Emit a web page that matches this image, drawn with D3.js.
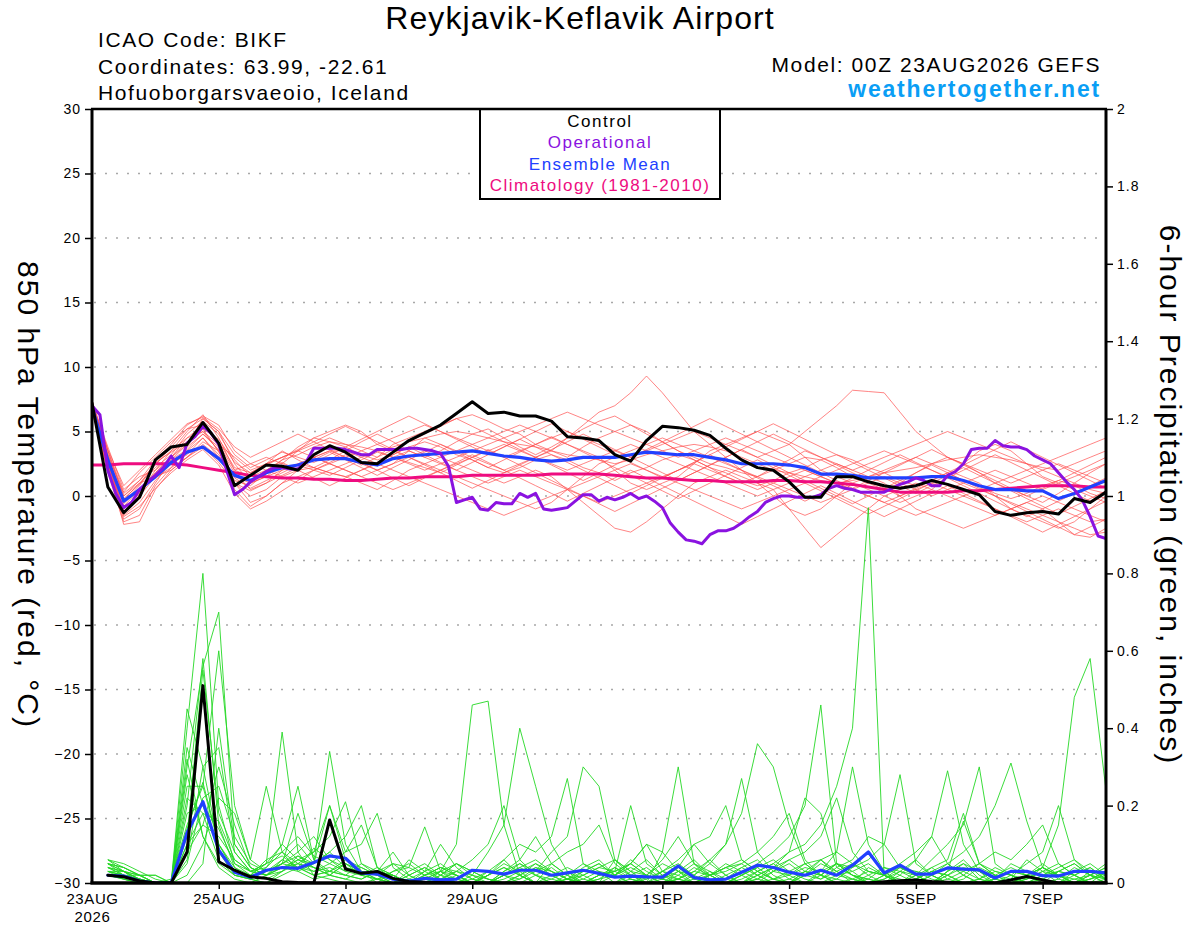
<!DOCTYPE html>
<html>
<head>
<meta charset="utf-8">
<title>Reykjavik-Keflavik Airport GEFS</title>
<script src="https://cdn.jsdelivr.net/npm/d3@7"></script>
<style>
body {margin:0;background:#fff;}
svg {display:block;font-family:"Liberation Sans",Arial,Helvetica,sans-serif;}
.grid line {stroke:#a8a8a8;stroke-width:1.3;stroke-dasharray:2,9;}
.member {fill:none;}
.thick {fill:none;stroke-linejoin:round;stroke-linecap:round;}
</style>
</head>
<body>
<svg id="chart" width="1200" height="927"></svg>
<script>
// 6-hourly steps from 00Z 23AUG2026, hour 0 .. 384
var stepHours = 6;
var dateTicks = [0, 48, 96, 144, 216, 264, 312, 360];
var dateLabels = ["23AUG", "25AUG", "27AUG", "29AUG", "1SEP", "3SEP", "5SEP", "7SEP"];
var tempTicks = [-30,-25,-20,-15,-10,-5,0,5,10,15,20,25,30];
var precipTicks = [0,0.2,0.4,0.6,0.8,1,1.2,1.4,1.6,1.8,2];

// 850 hPa temperature (C), 6-hourly, hour 0..384
var controlTemp = [7.2,0.7,-1.3,-0.1,2.8,3.8,4.0,5.7,4.1,0.8,1.6,2.4,2.3,2.0,3.2,3.9,3.4,2.6,2.5,3.4,4.3,4.9,5.5,6.4,7.3,6.4,6.5,6.2,6.2,5.8,4.6,4.5,4.3,3.2,2.7,4.3,5.4,5.3,5.1,4.7,3.7,2.8,2.2,2.0,1.1,-0.1,-0.1,1.5,1.5,1.1,0.8,0.6,0.8,1.2,0.9,0.5,0.1,-1.2,-1.5,-1.3,-1.2,-1.4,-0.2,-0.5,0.3];
var meanTemp = [6.9,2.8,-0.4,0.5,1.5,2.6,3.4,3.8,2.9,1.6,1.2,1.8,2.2,2.4,2.8,2.9,2.9,2.6,2.4,2.9,3.1,3.2,3.3,3.4,3.5,3.3,3.1,3.0,2.8,2.7,2.8,3.0,3.0,3.0,3.2,3.4,3.3,3.2,3.2,3.0,2.8,2.5,2.5,2.5,2.4,2.2,1.7,1.7,1.6,1.4,1.4,1.4,1.4,1.5,1.5,1.2,0.8,0.5,0.5,0.4,0.4,-0.2,0.2,0.7,1.2];
var climTemp = [2.4,2.4,2.5,2.5,2.5,2.5,2.4,2.2,2.0,1.8,1.6,1.5,1.4,1.4,1.3,1.3,1.2,1.2,1.3,1.4,1.4,1.5,1.5,1.5,1.6,1.6,1.6,1.6,1.6,1.7,1.7,1.7,1.7,1.6,1.5,1.4,1.4,1.3,1.2,1.2,1.1,1.1,1.1,1.2,1.2,1.1,1.1,1.0,0.9,0.7,0.5,0.3,0.3,0.3,0.3,0.4,0.4,0.5,0.6,0.7,0.8,0.8,0.8,0.7,0.7];
// operational run is 3-hourly, hour 0..384
var operTemp = [7.0,6.3,2.0,0.2,-0.9,-0.5,0.5,1.1,1.6,2.2,
  3.1,2.2,4.1,4.6,5.4,4.9,4.0,2.0,0.1,0.5,
  1.1,1.5,1.9,2.2,2.2,2.1,2.1,2.6,3.7,3.7,
  3.7,3.7,3.6,3.4,3.2,3.2,3.6,3.6,3.6,3.6,
  3.7,3.7,3.6,3.5,3.3,2.3,-0.5,-0.3,-0.1,-1.0,
  -1.1,-0.5,-0.6,-0.6,0.2,-0.1,0.2,-1.0,-1.1,-1.0,
  -0.9,-0.4,0.1,0.1,-0.4,-0.1,-0.3,-0.1,0.2,-0.2,
  0.0,-0.4,-0.9,-2.1,-2.8,-3.4,-3.5,-3.7,-3.0,-2.7,
  -2.7,-2.5,-2.1,-1.6,-1.2,-0.5,-0.2,0.0,0.0,-0.1,
  -0.1,-0.1,0.1,0.6,0.8,0.6,0.5,0.3,0.3,0.3,
  0.3,0.6,0.9,1.1,1.4,1.2,0.8,0.8,1.6,1.9,
  2.5,3.6,3.7,3.7,4.3,3.9,3.8,3.8,3.6,3.1,
  2.8,2.5,1.8,1.1,0.5,-0.3,-1.6,-3.1,-3.3];

var tempMembers = [
  [7.0,2.5,-1.0,0.2,2.0,3.5,4.5,5.5,4.0,2.0,1.5,2.5,3.0,3.5,4.0,4.5,4.0,3.5,3.0,4.0,4.5,5.0,5.5,6.0,6.3,5.8,5.2,4.8,4.0,3.5,3.0,3.8,4.5,5.0,5.5,5.0,4.2,3.5,3.0,2.5,2.2,1.8,1.5,2.0,2.5,3.0,2.8,2.2,1.5,1.0,0.5,1.0,1.8,2.5,3.0,2.5,1.8,1.0,0.5,0.0,-0.5,0.2,1.0,1.8,2.5],
  [7.2,3.5,0.0,1.0,1.5,2.0,3.0,4.2,3.5,1.0,0.0,0.5,1.5,2.0,2.2,1.8,1.5,1.0,0.5,1.2,2.0,2.5,2.0,1.5,1.0,0.5,0.0,-0.5,-1.0,-0.5,0.5,1.5,2.5,3.0,3.5,4.0,4.5,4.0,3.5,3.0,2.5,2.0,1.0,0.0,-1.0,-1.5,-1.0,0.0,1.0,1.5,2.0,2.5,3.0,2.5,2.0,1.5,1.0,0.0,-1.0,-1.5,-2.0,-2.5,-2.0,-1.0,0.0],
  [6.8,2.0,-1.8,-1.0,1.0,2.8,4.0,6.0,5.0,2.5,1.0,1.5,2.5,3.5,4.5,5.0,5.5,5.0,4.0,3.5,3.0,2.5,3.0,3.5,4.0,4.5,5.0,5.5,5.0,4.5,4.0,3.5,3.0,2.0,1.0,0.5,1.0,1.5,2.5,3.5,4.0,4.5,5.0,4.5,4.0,3.0,2.0,1.5,1.0,0.5,0.0,-0.5,0.0,0.5,1.5,2.5,3.5,4.0,3.5,2.5,1.5,1.0,0.5,0.0,-0.5],
  [7.1,3.0,-0.5,0.8,2.5,3.5,5.0,6.3,4.5,2.0,2.5,3.0,2.5,2.0,3.0,3.5,3.0,2.5,2.0,2.5,3.5,4.5,4.0,3.5,3.0,2.5,2.0,2.5,3.0,3.5,4.5,5.5,6.5,7.0,8.0,9.3,8.0,6.5,5.0,4.0,3.0,2.0,1.5,1.0,0.5,0.0,-0.5,0.0,0.5,1.0,1.5,1.0,0.5,0.0,0.5,1.0,1.5,2.0,1.5,1.0,0.5,1.0,1.5,2.0,2.5],
  [6.9,2.2,-2.2,-2.0,0.5,2.0,3.0,4.0,3.0,1.0,-0.5,0.0,1.0,1.5,2.0,2.5,2.0,1.5,2.0,2.5,3.0,3.5,3.0,2.5,2.0,1.5,1.0,1.5,2.0,1.5,0.5,-0.5,-1.5,-2.5,-2.8,-2.0,-1.0,0.0,1.0,1.5,2.0,1.5,1.0,0.5,-1.0,-2.5,-4.0,-3.0,-2.0,-1.0,0.0,0.5,1.0,0.5,0.0,-0.5,-1.0,-1.5,-1.0,-0.5,-1.0,-2.0,-3.0,-3.2,-2.5],
  [7.3,3.8,0.5,1.5,2.0,3.0,4.5,5.0,4.0,3.0,2.0,2.5,3.0,3.5,3.0,2.5,3.0,3.5,4.0,4.5,5.0,5.5,5.0,4.5,4.0,3.5,3.0,3.5,4.0,4.5,5.0,4.5,4.0,3.5,3.0,3.5,4.0,4.5,5.0,4.5,4.0,3.5,3.0,3.5,4.0,5.0,6.0,7.0,8.2,8.1,8.0,6.5,5.0,4.0,3.0,2.5,2.0,1.5,1.0,1.5,2.0,2.5,2.0,1.5,1.0],
  [6.7,2.8,-1.2,0.0,1.5,2.5,3.5,4.5,3.0,1.5,1.0,1.5,2.0,2.5,3.0,2.5,2.0,1.5,1.0,0.5,1.0,1.5,2.0,2.5,3.0,3.5,4.0,3.5,3.0,2.5,2.0,2.5,3.0,3.5,4.0,3.5,3.0,2.5,2.0,1.5,1.0,0.5,0.0,0.5,1.0,1.5,2.0,2.5,2.0,1.5,1.0,0.0,-1.0,-1.5,-2.0,-2.5,-2.0,-1.5,-1.0,-0.5,0.0,-0.5,-1.0,-1.5,-2.0],
  [7.0,3.2,0.2,1.2,2.8,4.0,5.5,6.2,5.5,3.5,2.5,2.0,1.5,1.0,1.5,2.0,2.5,3.0,3.5,3.0,2.5,2.0,2.5,3.0,3.5,4.0,4.5,5.0,5.5,6.0,6.5,6.0,5.5,5.0,4.5,4.0,3.5,3.0,3.5,4.0,4.5,4.0,3.5,3.0,2.5,2.0,1.5,2.0,2.5,3.0,3.5,3.0,2.5,2.0,1.5,1.0,0.5,1.0,1.5,2.0,2.5,3.0,3.5,4.0,4.5],
  [6.9,2.5,-0.8,0.5,1.8,3.0,4.2,5.0,3.5,0.5,-0.8,0.0,1.0,2.0,3.0,3.5,3.5,3.0,2.5,3.0,3.5,3.0,2.5,2.0,1.5,1.0,1.5,2.0,1.5,1.0,0.5,0.0,-0.5,0.0,0.5,1.0,1.5,2.0,2.5,2.0,1.5,1.0,0.5,1.0,1.5,2.0,1.5,1.0,0.5,0.0,-0.5,-1.0,-1.5,-1.0,-0.5,0.0,0.5,0.0,-0.5,-1.0,-1.5,-2.0,-2.5,-3.0,-2.8],
  [7.2,3.0,-0.3,1.0,2.2,3.2,4.8,5.8,4.8,2.8,1.5,2.0,2.8,3.2,3.8,4.2,4.0,3.8,3.5,3.8,4.2,4.5,4.8,5.0,4.8,4.5,4.2,4.0,3.8,3.5,3.2,3.0,2.8,2.5,2.8,3.2,3.5,3.8,4.0,3.8,3.5,3.0,2.5,2.0,1.8,1.5,1.2,1.0,1.2,1.5,1.8,2.0,2.2,2.5,2.8,3.0,3.2,3.0,2.8,2.5,2.2,2.0,2.5,3.0,3.5],
  [6.6,1.8,-2.0,-1.5,0.8,2.2,3.8,4.8,3.8,1.8,0.5,1.0,2.0,2.5,2.2,1.8,1.5,2.0,2.5,2.0,1.5,1.0,0.5,0.0,-0.5,-1.0,-1.5,-1.0,-0.5,0.0,0.5,1.0,1.5,2.0,2.5,2.0,1.5,1.0,0.5,0.0,-0.5,-1.0,-0.5,0.0,0.5,1.0,1.5,1.0,0.5,0.0,-0.5,0.0,0.5,1.0,0.5,0.0,-0.5,-1.0,-1.5,-2.0,-1.5,-1.0,-1.5,-2.0,-1.8],
  [7.0,2.7,-1.5,-0.5,1.2,2.5,3.2,4.5,3.2,1.2,0.8,1.8,2.8,3.8,4.5,4.2,3.8,3.2,2.8,3.2,3.8,4.2,3.8,3.2,2.8,2.2,1.8,2.2,2.8,3.2,2.8,2.2,1.8,1.2,1.8,2.2,2.8,3.2,2.8,2.2,1.8,1.2,0.8,1.2,1.8,2.2,2.8,3.2,2.8,2.2,1.8,1.2,0.8,1.2,1.8,1.2,0.8,0.2,-0.2,0.2,0.8,1.2,0.8,0.2,-0.2],
  [7.4,3.5,0.3,1.8,3.0,4.2,5.2,5.5,4.2,2.2,1.8,2.5,3.5,2.8,2.2,2.8,3.5,4.2,4.8,4.2,3.5,3.0,3.5,4.2,4.8,5.2,4.5,3.8,3.2,3.8,4.5,5.2,5.8,6.2,5.5,4.8,4.2,3.5,2.8,2.2,1.5,1.0,1.5,2.2,2.8,3.5,3.0,2.5,2.0,2.5,3.0,3.5,4.0,4.5,5.0,4.5,4.0,3.5,3.0,2.5,2.0,1.5,1.0,0.5,0.2],
  [6.8,2.3,-1.0,0.3,1.6,2.8,3.6,4.8,3.6,1.4,0.6,1.2,1.8,2.4,2.0,1.6,2.2,2.8,3.4,3.0,2.6,2.2,1.8,2.4,3.0,3.6,3.0,2.4,1.8,1.2,0.6,0.0,-0.6,-1.2,-0.6,0.0,0.6,1.2,1.8,2.4,3.0,3.6,3.0,2.4,1.8,1.2,0.6,0.0,-0.6,0.0,0.6,1.2,1.8,2.4,1.8,1.2,0.6,0.0,-0.6,-1.2,-1.8,-2.4,-3.0,-2.4,-1.8],
  [7.1,3.3,0.0,1.2,2.4,3.8,5.2,6.0,5.0,3.2,2.2,2.8,3.4,3.0,2.6,3.2,3.8,4.4,5.0,5.6,6.2,5.6,5.0,4.4,3.8,3.2,3.8,4.4,5.0,5.6,5.0,4.4,3.8,3.2,2.6,2.0,1.4,2.0,2.6,3.2,3.8,4.4,5.0,5.6,5.0,4.4,3.8,3.2,2.6,2.0,1.4,0.8,0.2,0.8,1.4,2.0,2.6,3.2,2.6,2.0,1.4,0.8,0.2,-0.4,0.2],
  [6.9,2.6,-0.6,0.6,1.4,2.2,3.0,3.8,2.6,1.0,0.4,1.0,1.6,2.2,2.8,3.4,2.8,2.2,1.6,2.2,2.8,3.4,4.0,3.4,2.8,2.2,2.8,3.4,4.0,4.6,4.0,3.4,2.8,2.2,1.6,1.0,0.4,-0.2,0.4,1.0,1.6,2.2,2.8,2.2,1.6,1.0,0.4,-0.2,-0.8,-1.4,-0.8,-0.2,0.4,1.0,1.6,2.2,1.6,1.0,0.4,-0.2,-0.8,-1.4,-0.8,-0.2,0.4],
  [7.2,3.6,0.8,2.0,3.2,4.4,5.6,6.1,5.2,3.8,3.0,3.6,4.2,4.8,4.2,3.6,3.0,2.4,3.0,3.6,4.2,4.8,5.4,6.0,5.4,4.8,4.2,3.6,3.0,2.4,1.8,1.2,1.8,2.4,3.0,3.6,4.2,4.8,5.4,6.0,5.4,4.8,4.2,3.6,3.0,2.4,1.8,1.2,0.6,1.2,1.8,2.4,3.0,3.6,3.0,2.4,1.8,1.2,0.6,0.0,0.6,1.2,1.8,2.4,3.0],
  [6.7,2.0,-1.6,-0.8,0.6,1.8,2.8,3.6,2.4,0.2,-1.0,-0.4,0.4,1.2,2.0,2.6,3.2,2.6,2.0,1.4,0.8,1.4,2.0,2.6,3.2,2.6,2.0,1.4,0.8,0.2,-0.4,0.2,0.8,1.4,2.0,1.4,0.8,0.2,-0.4,-1.0,-1.6,-2.2,-1.6,-1.0,-0.4,0.2,0.8,0.2,-0.4,-1.0,-1.6,-1.0,-0.4,0.2,0.8,0.2,-0.4,-1.0,-1.6,-2.2,-2.8,-2.2,-1.6,-1.0,-0.4],
  [7.0,3.1,-0.2,0.9,2.6,3.4,4.2,5.2,4.4,2.6,1.8,2.4,3.0,3.6,4.2,4.8,5.4,4.8,4.2,3.6,3.0,2.4,1.8,1.2,0.6,1.2,1.8,2.4,3.0,3.6,4.2,4.8,4.2,3.6,3.0,2.4,1.8,1.2,1.8,2.4,3.0,3.6,4.2,4.8,4.2,3.6,3.0,2.4,1.8,1.2,0.6,0.0,0.6,1.2,1.8,2.4,3.0,3.6,4.2,3.6,3.0,2.4,1.8,1.2,0.6],
  [6.8,2.4,-1.4,0.1,1.8,3.0,4.0,5.2,3.4,1.6,1.2,2.0,2.6,2.0,1.4,0.8,1.4,2.0,2.6,3.2,3.8,3.2,2.6,2.0,2.6,3.2,3.8,4.4,3.8,3.2,2.6,2.0,1.4,0.8,0.2,0.8,1.4,2.0,2.6,3.2,2.6,2.0,1.4,0.8,0.2,-0.4,0.2,0.8,1.4,2.0,2.6,3.2,2.6,2.0,1.4,0.8,0.2,-0.4,-1.0,-1.6,-1.0,-0.4,0.2,0.8,1.4]
];

// 6-hour precipitation (inches), valid hour 6..384
var controlPrecip = [0.02,0.016,0.005,0,0,0.08,0.51,0.055, 0.033,0.016,0.012,0.003,0.001,0,0.163,0.036, 0.025,0.03,0.012,0.004,0.002,0.001,0,0, 0,0,0,0,0,0,0,0, 0,0,0,0,0,0,0,0, 0,0,0,0,0,0,0,0, 0,0.003,0.006,0.008,0.004,0.002,0,0, 0,0.008,0.017,0.008,0,0,0,0];
var meanPrecip = [0.02,0.018,0.005,0,0,0.13,0.21,0.085, 0.028,0.015,0.033,0.04,0.038,0.053,0.07,0.064, 0.026,0.023,0.01,0.005,0.012,0.008,0.01,0.033, 0.03,0.023,0.033,0.033,0.02,0.026,0.033,0.025, 0.015,0.018,0.016,0.015,0.044,0.014,0.008,0.01, 0.028,0.046,0.04,0.028,0.02,0.033,0.02,0.046, 0.08,0.026,0.046,0.023,0.023,0.039,0.036,0.034, 0.013,0.03,0.03,0.019,0.018,0.03,0.03,0.026];
var precipMembers = [
  [.05,.03,.01,0,0,.45,.30,.10, .03,.02,.05,.39,.08,.02,.01,0, 0,.01,.02,0,0,.03,.10,.46, .47,.15,.02,0,.01,.03,0,0, 0,.02,.04,.01,0,0,.02,.05, .03,.01,0,0,.02,.06,.03,0, .01,.04,.02,0,0,.03,.05,.01, 0,0,.02,.04,.01,0,.03,.02],
  [.06,.04,.02,0,0,.40,.80,.20, .05,.03,.04,.10,.25,.06,.02,.01, 0,0,.03,.05,.02,0,0,.02, .08,.15,.40,.25,.10,.03,.01,0, 0,0,.02,.05,.03,0,0,.01, .04,.06,.02,0,0,.03,.08,.05, .02,0,0,.01,.03,.02,0,0, .01,.05,.03,0,0,.02,.04,.01],
  [.04,.02,.01,0,0,.30,.56,.70, .10,.04,.02,.06,.10,.05,.34,.10, .03,.01,0,0,.02,.04,.02,0, 0,.02,.05,.03,.08,.12,.30,.25, .06,.02,0,0,.01,.04,.02,0, 0,.03,.05,.02,0,0,.01,.04, .08,.03,0,0,.02,.05,.02,0, 0,.01,.06,.03,0,0,.02,.05],
  [.03,.03,.02,.02,0,.20,.58,.15, .04,.01,0,.03,.07,.05,.08,.12, .20,.04,.01,0,0,.02,.05,.03, .01,0,0,.02,.04,.01,0,0, .02,.05,.10,.08,.30,.05,.01,0, 0,.02,.04,.01,0,.02,.05,.02, 0,0,.03,.06,.02,0,0,.01, .04,.02,0,0,.03,.05,.02,0],
  [.05,.03,0,0,.01,.15,.25,.60, .20,.06,.25,.08,.03,.01,.02,.05, .03,0,0,.02,.04,.01,0,0, .02,.05,.03,0,0,.01,.04,.06, .02,0,0,.01,.03,.02,.05,.10, .18,.36,.30,.15,.05,.02,0,0, .04,.02,.01,0,0,.03,.06,.02, 0,0,.01,.03,.05,.02,0,0],
  [.04,.02,.01,0,0,.10,.15,.12, .06,.03,.02,.04,.05,.08,.12,.21, .05,.02,0,0,.01,.03,0,0, .03,.06,.02,0,0,.02,.05,.03, 0,.01,0,.02,.04,.01,0,0, .02,.05,.08,.12,.20,.46,.05,.02, .01,0,0,.03,.02,0,.01,.04, .02,0,0,.01,.03,.02,0,0],
  [.03,.02,.01,0,0,.35,.20,.08, .02,.01,0,.02,.04,.03,.05,.08, .10,.18,.04,.01,0,0,.02,0, 0,.01,.03,.05,.02,0,0,.02, .04,.01,0,0,.03,.06,.02,0, 0,.01,.04,.08,.10,.15,.25,.40, .97,.02,0,.01,.03,.02,0,0, .01,.03,.02,0,0,.01,.02,.04],
  [.02,.01,0,0,0,.05,.22,.25, .12,.05,.03,.06,.04,.09,.06,.04, .03,.02,.05,.04,.145,.03,.01,0, .02,.06,.10,.08,.12,.27,.05,.02, .03,.20,.05,.02,0,.01,.03,0, .02,.04,.01,0,.03,.02,.05,.03, 0,.01,.04,.02,0,.02,.05,.03, 0,0,.02,.05,.02,0,.01,.03],
  [.05,.04,.02,0,0,.25,.25,.10, .03,.02,.03,.05,.07,.04,.03,.02, .05,.03,.08,.02,0,.01,.03,.02, 0,0,.01,.04,.02,0,.03,.05, .02,.06,.03,.01,0,.02,.06,.10, .27,.08,.03,.02,.05,.06,.08,.30, .10,.03,0,.02,.04,.01,0,0, .02,.04,.02,.01,0,.03,.05,.02],
  [.04,.03,.01,0,0,.08,.15,.30, .15,.04,.02,.05,.18,.06,.03,.02, .01,.03,.02,0,.02,.04,.02,0, 0,.03,.05,.02,0,.01,.02,.04, .06,.03,0,0,.02,.05,.03,.01, 0,.02,.04,.06,.03,.01,.04,.06, .12,.10,.28,.05,.02,0,0,.01, .03,.02,0,.02,.04,.06,.03,.01],
  [.06,.05,.03,.01,0,.12,.55,.18, .08,.03,.02,.04,.06,.08,.20,.06, .02,.01,0,.03,.05,.02,0,.01, .03,.02,0,0,.02,.04,.02,0, 0,.03,.06,.02,.01,0,.02,.04, .06,.03,.01,0,.02,.05,.03,.01, 0,.02,.05,.08,.12,.29,.10,.03, .01,0,.02,.04,.02,0,.01,.03],
  [.03,.02,.02,0,0,.28,.12,.05, .02,.01,.04,.08,.12,.07,.05,.03, .04,.02,.01,0,.03,.10,.04,.01, 0,.02,.04,.06,.03,.01,0,.02, .03,.05,.02,0,.01,.03,.06,.02, 0,0,.03,.05,.02,.01,.03,.05, .03,.02,0,.02,.06,.10,.15,.30, .05,.02,0,.01,.03,.02,.04,.01],
  [.05,.02,.01,0,0,.02,.10,.22, .18,.06,.03,.05,.08,.12,.06,.03, .02,.04,.02,0,0,.02,.05,.03, .01,0,.02,.05,.03,.01,0,.01, .04,.02,0,.03,.05,.02,0,0, .02,.04,.06,.03,.01,0,.02,.03, .05,.02,0,.01,.03,.05,.08,.12, .20,.31,.16,.04,.02,0,.01,.02],
  [.02,.01,0,0,0,.18,.20,.14, .05,.02,.01,.03,.05,.04,.02,.01, .03,.02,.01,.06,.03,.01,0,0, .02,.04,.02,0,0,.01,.03,.05, .02,0,.01,.03,.02,0,0,.02, .04,.02,0,0,.03,.06,.02,.01, 0,.02,.04,.03,.01,0,.02,.05, .03,.02,.01,.04,.15,.48,.58,.24],
  [.03,.02,.01,0,0,0,.05,.40, .10,.04,.02,.03,.06,.05,.20,.08, .15,.04,.02,0,.01,.03,.02,0, 0,.02,.04,.02,0,0,.01,.03, .02,.05,.10,.03,.01,0,.02,.04, .02,0,.01,.03,.05,.02,0,.01, .03,.02,0,0,.02,.04,.03,.01, 0,.02,.05,.08,.20,.06,.02,.01],
  [.04,.03,.01,0,0,.22,.18,.06, .02,.01,.03,.05,.04,.02,.03,.06, .04,.02,0,.01,.03,.05,.02,0, 0,.03,.06,.12,.05,.02,0,.01, .02,.04,.02,.06,.12,.05,.02,0, .01,.03,.05,.08,.22,.18,.04,.02, 0,.01,.03,.02,0,.02,.04,.03, .01,0,.02,.04,.02,.01,0,.03],
  [.02,.02,0,0,0,.06,.30,.35, .08,.03,.05,.10,.06,.04,.02,.05, .03,.01,0,.02,.04,.02,.01,0, .02,.04,.02,0,.05,.08,.10,.15, .05,.02,.01,.03,.06,.10,.12,.20, .06,.03,.01,.02,.04,.03,.05,.02, .01,0,.02,.06,.12,.05,.02,0, .01,.03,.02,0,.01,.04,.02,0],
  [.05,.04,.02,0,0,.32,.12,.04, .01,0,.02,.04,.03,.05,.08,.04, .02,.03,.05,.02,0,.01,.03,.06, .10,.20,.06,.02,.01,0,.02,.04, .03,.01,0,.08,.03,.01,.02,.03, .05,.02,0,.01,.03,.02,.05,.04, .06,.10,.04,.02,0,.01,.03,.05, .08,.06,.10,.15,.05,.02,0,.01],
  [.03,.01,0,0,0,.14,.26,.10, .04,.02,.06,.08,.05,.03,.04,.02, .01,.03,.02,0,.02,.04,.03,.01, 0,.02,.01,.03,.05,.02,0,0, .06,.03,.02,0,.01,.03,.02,.04, .05,.08,.12,.18,.06,.02,.01,0, .02,.04,.03,.01,0,.03,.16,.05, .02,0,.01,.03,.02,0,.02,.04],
  [.06,.03,.02,.02,0,.10,.18,.16, .06,.03,.05,.07,.04,.02,.03,.05, .02,.01,.03,.04,.02,.03,.05,.02, .01,0,.02,.04,.03,.01,0,.02, .03,.05,.02,.01,.04,.10,.05,.02, 0,.01,.03,.06,.08,.12,.22,.08, .03,.02,0,.01,.04,.06,.18,.05, .02,.01,0,.02,.03,.05,.02,.01]
];

var legendItems = [
  {label: "Control", color: "#000000"},
  {label: "Operational", color: "#8a12e0"},
  {label: "Ensemble Mean", color: "#2140ff"},
  {label: "Climatology (1981-2010)", color: "#ee0c80"}
];

var svg = d3.select("#chart");
var pLeft = 92, pRight = 1106, pTop = 109, pBottom = 883;

var x = d3.scaleLinear().domain([0, 384]).range([pLeft, pRight]);
var yT = d3.scaleLinear().domain([-30, 30]).range([pBottom, pTop]);
var yP = d3.scaleLinear().domain([0, 2]).range([pBottom, pTop]);

svg.append("rect").attr("width", 1200).attr("height", 927).attr("fill", "#fff");

svg.append("defs").append("clipPath").attr("id", "plotclip")
  .append("rect").attr("x", pLeft).attr("y", pTop).attr("width", pRight - pLeft).attr("height", pBottom - pTop);

// dotted grid at temperature ticks
svg.append("g").attr("class", "grid")
  .selectAll("line")
  .data(tempTicks.filter(function(d) { return d > -30 && d < 30; }))
  .enter().append("line")
    .attr("x1", pLeft + 2).attr("x2", pRight - 2)
    .attr("y1", function(d) { return yT(d); })
    .attr("y2", function(d) { return yT(d); });

var tempLine = d3.line()
  .x(function(d, i) { return x(i * stepHours); })
  .y(function(d) { return yT(d); });
var operLine = d3.line()
  .x(function(d, i) { return x(i * 3); })
  .y(function(d) { return yT(d); });
var precipLine = d3.line()
  .x(function(d, i) { return x((i + 1) * stepHours); })
  .y(function(d) { return yP(d); });

var plot = svg.append("g").attr("clip-path", "url(#plotclip)");

plot.append("g").selectAll("path")
  .data(tempMembers).enter().append("path")
    .attr("class", "member")
    .attr("d", tempLine)
    .attr("stroke", "#ff4a4a")
    .attr("stroke-opacity", 0.85)
    .attr("stroke-width", 0.8);

plot.append("g").selectAll("path")
  .data(precipMembers).enter().append("path")
    .attr("class", "member")
    .attr("d", precipLine)
    .attr("stroke", "#25d825")
    .attr("stroke-width", 0.9);

plot.append("path").attr("class", "thick").attr("d", tempLine(climTemp))
  .attr("stroke", "#ee0c80").attr("stroke-width", 3);
plot.append("path").attr("class", "thick").attr("d", precipLine(meanPrecip))
  .attr("stroke", "#2140ff").attr("stroke-width", 3.2);
plot.append("path").attr("class", "thick").attr("d", precipLine(controlPrecip))
  .attr("stroke", "#000").attr("stroke-width", 3);
plot.append("path").attr("class", "thick").attr("d", tempLine(meanTemp))
  .attr("stroke", "#2140ff").attr("stroke-width", 3.2);
plot.append("path").attr("class", "thick").attr("d", operLine(operTemp))
  .attr("stroke", "#8a12e0").attr("stroke-width", 3);
plot.append("path").attr("class", "thick").attr("d", tempLine(controlTemp))
  .attr("stroke", "#000").attr("stroke-width", 3);

// legend box
var lg = svg.append("g");
lg.append("rect").attr("x", 480).attr("y", pTop).attr("width", 240).attr("height", 90)
  .attr("fill", "#fff").attr("stroke", "#000").attr("stroke-width", 2);
lg.selectAll("text").data(legendItems).enter().append("text")
  .attr("x", 600)
  .attr("y", function(d, i) { return 127 + i * 21.3; })
  .attr("text-anchor", "middle")
  .style("font-size", "17px")
  .style("letter-spacing", "1.5px")
  .attr("fill", function(d) { return d.color; })
  .text(function(d) { return d.label; });

// frame
svg.append("line").attr("x1", pLeft - 1).attr("x2", pRight + 1).attr("y1", pTop).attr("y2", pTop)
  .attr("stroke", "#000").attr("stroke-width", 2.5);
svg.append("line").attr("x1", pLeft - 1.5).attr("x2", pRight + 1.5).attr("y1", pBottom).attr("y2", pBottom)
  .attr("stroke", "#000").attr("stroke-width", 3.5);
svg.append("line").attr("x1", pLeft).attr("x2", pLeft).attr("y1", pTop).attr("y2", pBottom)
  .attr("stroke", "#000").attr("stroke-width", 3);
svg.append("line").attr("x1", pRight).attr("x2", pRight).attr("y1", pTop).attr("y2", pBottom)
  .attr("stroke", "#000").attr("stroke-width", 3);

// axes
function styleAxis(g) {
  g.select(".domain").remove();
  g.attr("font-family", null).attr("font-size", null);
  g.selectAll(".tick line").attr("stroke", "#000").attr("stroke-width", 1.5);
  g.selectAll(".tick text").style("font-size", "14px").style("letter-spacing", "1px").attr("fill", "#000");
}

svg.append("g").attr("transform", "translate(" + (pLeft - 1) + ",0)")
  .call(d3.axisLeft(yT).tickValues(tempTicks).tickSize(6).tickPadding(4).tickFormat(d3.format("d")))
  .call(styleAxis);

svg.append("g").attr("transform", "translate(" + (pRight + 1) + ",0)")
  .call(d3.axisRight(yP).tickValues(precipTicks).tickSize(6).tickPadding(4).tickFormat(function(d) { return String(+d.toFixed(1)); }))
  .call(styleAxis);

var xAxis = svg.append("g").attr("transform", "translate(0," + (pBottom + 1) + ")")
  .call(d3.axisBottom(x).tickValues(dateTicks).tickSize(5).tickPadding(4)
    .tickFormat(function(d, i) { return dateLabels[i]; }))
  .call(styleAxis);
xAxis.selectAll(".tick text").style("font-size", "15px").style("letter-spacing", "0.6px");
xAxis.selectAll(".tick").filter(function(d) { return d === 0; }).select("line").remove();
xAxis.select(".tick").append("text")
  .attr("y", 27).attr("dy", "0.71em")
  .attr("fill", "#000").style("font-size", "15px").style("letter-spacing", "0.6px")
  .text("2026");

// titles
svg.append("text").attr("x", 580).attr("y", 29).attr("text-anchor", "middle")
  .style("font-size", "32px").style("letter-spacing", "1.1px").text("Reykjavik-Keflavik Airport");

var info = ["ICAO Code: BIKF", "Coordinates: 63.99, -22.61", "Hofuoborgarsvaeoio, Iceland"];
svg.append("g").selectAll("text").data(info).enter().append("text")
  .attr("x", 98).attr("y", function(d, i) { return 47 + i * 26.5; })
  .style("font-size", "21px").style("letter-spacing", "1.6px")
  .text(function(d) { return d; });

svg.append("text").attr("x", 1101).attr("y", 72).attr("text-anchor", "end")
  .style("font-size", "21px").style("letter-spacing", "1.6px")
  .text("Model: 00Z 23AUG2026 GEFS");
svg.append("text").attr("x", 1101).attr("y", 97).attr("text-anchor", "end")
  .style("font-size", "23px").style("font-weight", "bold").style("letter-spacing", "1.8px")
  .attr("fill", "#0a9ef5")
  .text("weathertogether.net");

svg.append("text").attr("transform", "translate(18,495) rotate(90)")
  .attr("text-anchor", "middle")
  .style("font-size", "30px").style("letter-spacing", "2px")
  .text("850 hPa Temperature (red, \u00B0C)");
svg.append("text").attr("transform", "translate(1160,495) rotate(90)")
  .attr("text-anchor", "middle")
  .style("font-size", "30px").style("letter-spacing", "2px")
  .text("6-hour Precipitation (green, inches)");
</script>
</body>
</html>
